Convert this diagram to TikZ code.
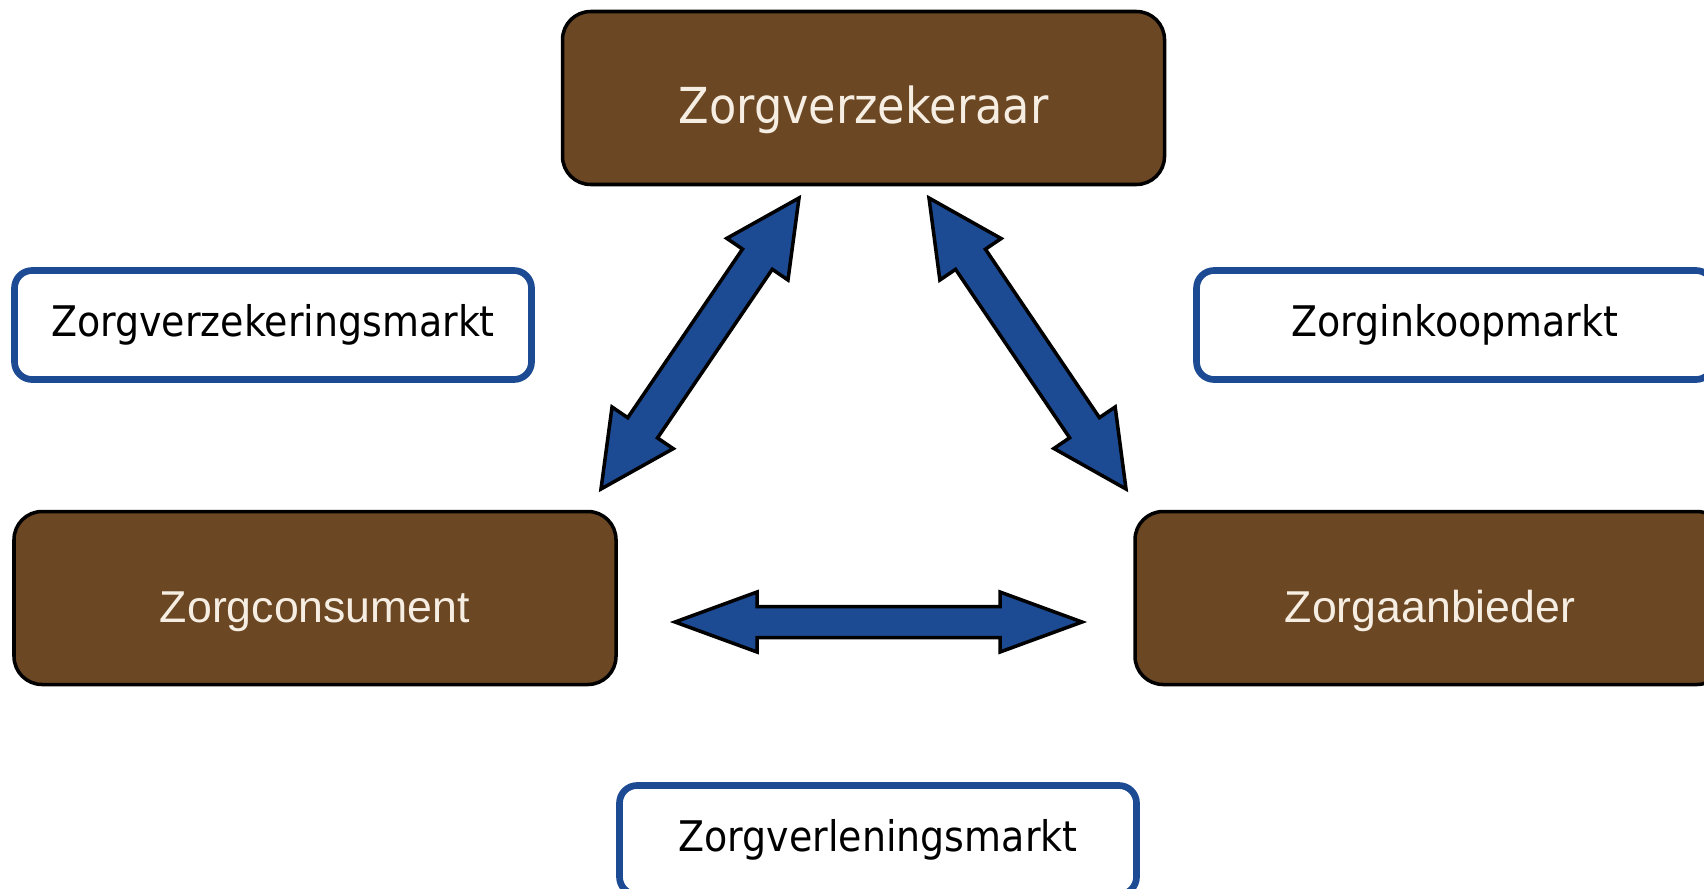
\documentclass[tikz,border=0pt]{standalone}
\usepackage{fontspec}
\setmainfont{DejaVu Sans}[FakeStretch=0.9]
\newfontfamily\arialfont{Liberation Sans}
\usetikzlibrary{calc}

\definecolor{bruin}{HTML}{6B4723}
\definecolor{blauw}{HTML}{1D4B93}
\definecolor{creme}{HTML}{F6EEE2}

\tikzset{
  partij/.style={draw=black, line width=1pt, fill=bruin, text=creme,
    rounded corners=8pt, minimum width=6.02cm, minimum height=1.73cm,
    text height=1.4em, text depth=0pt, font=\arialfont\fontsize{12.7}{14}\selectfont},
  markt/.style={draw=blauw, line width=1.9pt, fill=white,
    rounded corners=5pt, minimum width=5.17cm, minimum height=1.09cm,
    font=\fontsize{12}{14}\selectfont},
  pijl/.style={fill=blauw, draw=black, line width=1pt, line join=miter}
}

% dikke dubbele pijl van #1 naar #2 (kop lengte #3, kop halve breedte #4, steel halve breedte #5)
\newcommand{\dubbelpijl}[5]{%
  \filldraw[pijl] (#1)
    -- ($(#1)!#3!(#2)!#4!90:(#2)$)
    -- ($(#1)!#3!(#2)!#5!90:(#2)$)
    -- ($(#2)!#3!(#1)!#5!-90:(#1)$)
    -- ($(#2)!#3!(#1)!#4!-90:(#1)$)
    -- (#2)
    -- ($(#2)!#3!(#1)!#4!90:(#1)$)
    -- ($(#2)!#3!(#1)!#5!90:(#1)$)
    -- ($(#1)!#3!(#2)!#5!-90:(#2)$)
    -- ($(#1)!#3!(#2)!#4!-90:(#2)$)
    -- cycle;}

\begin{document}
\begin{tikzpicture}

\useasboundingbox (0,0) rectangle (17.04,8.88);
\clip (0,0) rectangle (17.04,8.88);

\node[partij, text height=1.46em, font=\rmfamily\fontsize{14.1}{16}\selectfont] (zv) at (8.635,7.90) {Zorgverzekeraar};
\node[partij] (zc) at (3.15,2.90) {Zorgconsument};
\node[partij, minimum width=5.9cm] (za) at (14.30,2.90) {Zorgaanbieder};

\node[markt] (zvm) at (2.73,5.63) {Zorgverzekeringsmarkt};
\node[markt] (zim) at (14.55,5.63) {Zorginkoopmarkt};
\node[markt] (zlm) at (8.78,0.48) {Zorgverleningsmarkt};

% uiteinden van de pijlen
\coordinate (zv-l) at (7.99,6.90);
\coordinate (zv-r) at (9.29,6.90);
\coordinate (zc-o) at (6.01,3.99);
\coordinate (za-o) at (11.26,3.99);
\coordinate (zc-r) at (6.75,2.66);
\coordinate (za-l) at (10.82,2.66);

\dubbelpijl{zv-l}{zc-o}{0.74cm}{0.37cm}{0.18cm}
\dubbelpijl{zv-r}{za-o}{0.74cm}{0.37cm}{0.18cm}
\dubbelpijl{zc-r}{za-l}{0.82cm}{0.30cm}{0.155cm}

\end{tikzpicture}
\end{document}
